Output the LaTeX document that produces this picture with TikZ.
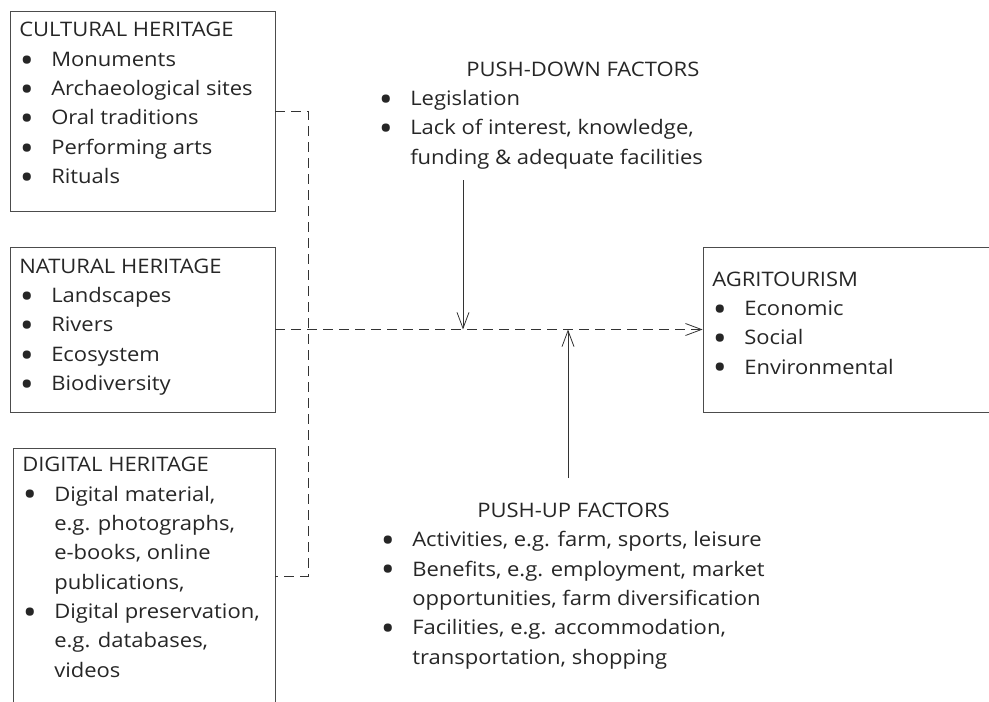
\documentclass[tikz,border=0pt]{standalone}
\usepackage{graphicx}
\usepackage{fontspec}
\setmainfont{Open Sans}[FakeStretch=1.1]
\usetikzlibrary{arrows.meta}
\newcommand{\itm}{\makebox[24pt][l]{\hspace{0.5pt}\smash{\raisebox{-4.4pt}{\scalebox{1.7}{\textbullet}}}}}
\newcommand{\cnt}{\hspace*{24pt}}

\begin{document}
\begin{tikzpicture}[x=0.75pt,y=-0.75pt,
    every node/.style={font=\fontsize{15}{22}\selectfont, text=black!85},
    heritage/.style={draw=black!70, line width=0.6pt},
    listing/.style={anchor=base west, align=left, inner sep=0pt},
    flow/.style={draw=black!80, line width=0.6pt, dash pattern=on 7pt off 5pt},
    push/.style={draw=black!80, line width=0.6pt},
    >={Straight Barb[length=12pt,width=9pt]}]
    \useasboundingbox (0,0) rectangle (989,701);
    \clip (0,0) rectangle (989,701);
    % heritage boxes
    \node[heritage, minimum width=198.75pt, minimum height=150pt] (cultural) at (142.5,111) {};
    \node[heritage, minimum width=198.75pt, minimum height=123.75pt] (natural) at (142.5,329.5) {};
    \node[heritage, minimum width=196.5pt, minimum height=192pt] (digital) at (144,576) {};
    \node[heritage, minimum width=225pt, minimum height=123.75pt] (agri) at (853,329.5) {};
    % box texts, placed by the baseline of their last line
    \node[listing] (cultural-text) at (19,183.5)
        {CULTURAL HERITAGE\\ \itm Monuments\\ \itm Archaeological sites\\ \itm Oral traditions\\ \itm Performing arts\\ \itm Rituals};
    \node[listing] (natural-text) at (19,390.5)
        {NATURAL HERITAGE\\ \itm Landscapes\\ \itm Rivers\\ \itm Ecosystem\\ \itm Biodiversity};
    \node[listing] (digital-text) at (22,677)
        {DIGITAL HERITAGE\\ \itm Digital material,\\ \cnt e.g. photographs,\\ \cnt e-books, online\\ \cnt publications,\\
         \itm Digital preservation,\\ \cnt e.g. databases,\\ \cnt videos};
    \node[listing] (agri-text) at (712,374)
        {AGRITOURISM\\ \itm Economic\\ \itm Social\\ \itm Environmental};
    % factors
    \node[listing] (pushdown) at (378,164)
        {\hspace*{66pt}PUSH-DOWN FACTORS\\ \itm Legislation\\ \itm Lack of interest, knowledge,\\ \cnt funding \& adequate facilities};
    \node[listing] (pushup) at (380,664)
        {\hspace*{72.75pt}PUSH-UP FACTORS\\ \itm Activities, e.g. farm, sports, leisure\\ \itm Benefits, e.g. employment, market\\
         \cnt opportunities, farm diversification\\ \itm Facilities, e.g. accommodation,\\ \cnt transportation, shopping};
    \coordinate (spine) at (308,329.5);
    \coordinate (down) at (463,180);
    \coordinate (up) at (568,478);
    % connectors
    \draw[flow] (cultural.east) -- (cultural.east -| spine) -- (digital.east -| spine) -- (digital.east);
    \draw[flow,->] (natural.east) -- (agri.west);
    \draw[push,->] (down) -- (down |- natural.east);
    \draw[push,->] (up) -- (up |- natural.east);
\end{tikzpicture}
\end{document}
